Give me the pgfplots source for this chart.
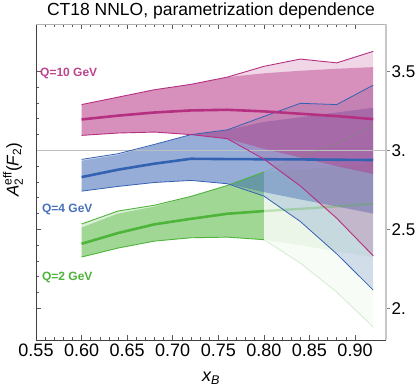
\documentclass[border=0pt]{standalone}
\usepackage{fontspec}
\setmainfont{Liberation Sans}
\usepackage{amsmath}
\usepackage{pgfplots}
\usepackage{pgfplotstable}
\pgfplotsset{compat=1.18}
\usepgfplotslibrary{fillbetween}

\definecolor{mag}{RGB}{181,48,129}
\definecolor{blu}{RGB}{52,98,178}
\definecolor{grn}{RGB}{78,180,58}

% Q=10 GeV: x, thin lower/upper, darker band lower/upper, central
\pgfplotstableread{
x    lo    hi    dlo   dhi   c
0.60 3.095 3.290 3.095 3.290 3.196
0.64 3.110 3.337 3.110 3.337 3.220
0.68 3.116 3.384 3.116 3.384 3.240
0.72 3.100 3.418 3.100 3.418 3.253
0.76 3.074 3.464 3.074 3.464 3.257
0.80 2.945 3.532 3.010 3.488 3.247
0.84 2.775 3.578 2.955 3.504 3.232
0.88 2.570 3.554 2.900 3.517 3.217
0.92 2.333 3.627 2.850 3.527 3.198
}\magtab

% Q=4 GeV
\pgfplotstableread{
x    lo    hi    dlo   dhi   c
0.60 2.742 2.943 2.742 2.935 2.831
0.64 2.772 2.979 2.772 2.972 2.878
0.68 2.797 3.038 2.797 3.035 2.916
0.72 2.810 3.100 2.810 3.100 2.947
0.76 2.789 3.130 2.789 3.130 2.945
0.80 2.711 3.215 2.736 3.180 2.944
0.84 2.550 3.298 2.690 3.210 2.943
0.88 2.345 3.290 2.645 3.240 2.941
0.92 2.116 3.413 2.600 3.270 2.939
}\blutab

% Q=2 GeV, fitted range
\pgfplotstableread{
x    lo    hi    dlo   dhi   c
0.60 2.325 2.534 2.325 2.512 2.409
0.64 2.382 2.616 2.382 2.600 2.477
0.68 2.426 2.653 2.426 2.645 2.532
0.72 2.447 2.709 2.447 2.709 2.567
0.76 2.451 2.778 2.451 2.778 2.599
0.80 2.435 2.863 2.435 2.863 2.616
}\grntab

% Q=2 GeV, extrapolated range
\pgfplotstableread{
x    lo    hi    dlo   dhi   c
0.80 2.435 2.863 2.435 2.863 2.616
0.84 2.287 2.960 2.400 2.880 2.630
0.88 2.103 3.042 2.360 2.900 2.646
0.92 1.882 3.154 2.325 2.920 2.662
}\grnext

\begin{document}
\begin{tikzpicture}
\begin{axis}[
    name=ax,
    at={(0,0)}, anchor=south west,
    scale only axis,
    width=350bp, height=316bp,
    xmin=0.55, xmax=0.934,
    ymin=1.8, ymax=3.8,
    clip=false,
    axis line style={draw=none},
    xtick={0.55,0.60,0.65,0.70,0.75,0.80,0.85,0.90},
    minor x tick num=4,
    xtick pos=both,
    ytick={2,2.5,3,3.5},
    minor y tick num=4,
    ytick pos=left,
    yticklabels={},
    tick align=inside,
    major tick length=5bp,
    minor tick length=3bp,
    tick style={black!65, line width=0.6bp},
    /pgf/number format/assume math mode=true,
    xticklabel style={font=\fontsize{18bp}{20bp}\selectfont,
        /pgf/number format/.cd, fixed, fixed zerofill, precision=2},
    xlabel={$\textit{x}_{\textit{B}}$},
    xlabel style={font=\fontsize{18bp}{20bp}\selectfont,
        at={(axis description cs:0.5,0)}, anchor=center, yshift=-38bp},
    ylabel={$\textit{A}_{\text{2}}^{\text{eff}}\text{(}\textit{F}_{\text{2}}\text{)}$},
    ylabel style={font=\fontsize{17bp}{19bp}\selectfont,
        at={(axis description cs:-0.066,0.538)}, anchor=center},
]

% reference line
\addplot[black!25, line width=0.8bp] coordinates {(0.55,3) (0.934,3)};

% ---- Q=2 bands
\addplot[name path=g1, draw=none] table[x=x,y=hi] {\grntab};
\addplot[name path=g2, draw=none] table[x=x,y=lo] {\grntab};
\addplot[fill=grn, fill opacity=0.2] fill between[of=g1 and g2];
\addplot[name path=g3, draw=none] table[x=x,y=dhi] {\grntab};
\addplot[name path=g4, draw=none] table[x=x,y=dlo] {\grntab};
\addplot[fill=grn, fill opacity=0.42] fill between[of=g3 and g4];
\addplot[name path=g5, draw=none] table[x=x,y=hi] {\grnext};
\addplot[name path=g6, draw=none] table[x=x,y=lo] {\grnext};
\addplot[fill=grn, fill opacity=0.04] fill between[of=g5 and g6];
\addplot[name path=g7, draw=none] table[x=x,y=dhi] {\grnext};
\addplot[name path=g8, draw=none] table[x=x,y=dlo] {\grnext};
\addplot[fill=grn, fill opacity=0.08] fill between[of=g7 and g8];

% ---- Q=4 bands
\addplot[name path=b1, draw=none] table[x=x,y=hi] {\blutab};
\addplot[name path=b2, draw=none] table[x=x,y=lo] {\blutab};
\addplot[fill=blu, fill opacity=0.2] fill between[of=b1 and b2];
\addplot[name path=b3, draw=none] table[x=x,y=dhi] {\blutab};
\addplot[name path=b4, draw=none] table[x=x,y=dlo] {\blutab};
\addplot[fill=blu, fill opacity=0.4] fill between[of=b3 and b4];

% ---- Q=10 bands
\addplot[name path=m1, draw=none] table[x=x,y=hi] {\magtab};
\addplot[name path=m2, draw=none] table[x=x,y=lo] {\magtab};
\addplot[fill=mag, fill opacity=0.2] fill between[of=m1 and m2];
\addplot[name path=m3, draw=none] table[x=x,y=dhi] {\magtab};
\addplot[name path=m4, draw=none] table[x=x,y=dlo] {\magtab};
\addplot[fill=mag, fill opacity=0.42] fill between[of=m3 and m4];

% ---- lines
\addplot[grn, line width=0.9bp] table[x=x,y=hi] {\grntab};
\addplot[grn, line width=0.9bp] table[x=x,y=lo] {\grntab};
\addplot[grn, line width=2.6bp] table[x=x,y=c] {\grntab};
\addplot[grn, draw opacity=0.22, line width=0.9bp] table[x=x,y=hi] {\grnext};
\addplot[grn, draw opacity=0.22, line width=0.9bp] table[x=x,y=lo] {\grnext};
\addplot[grn, draw opacity=0.3, line width=2.4bp] table[x=x,y=c] {\grnext};

\addplot[blu, line width=0.8bp] table[x=x,y=hi] {\blutab};
\addplot[blu, line width=0.8bp] table[x=x,y=lo] {\blutab};
\addplot[blu, line width=2.6bp] table[x=x,y=c] {\blutab};

\addplot[mag, line width=0.9bp] table[x=x,y=hi] {\magtab};
\addplot[mag, line width=0.9bp] table[x=x,y=lo] {\magtab};
\addplot[mag, line width=2.6bp] table[x=x,y=c] {\magtab};

% frame
\draw[black!75, line width=0.8bp] (rel axis cs:0,1) -- (rel axis cs:0,0) -- (rel axis cs:1,0);
\draw[black!30, line width=0.6bp] (rel axis cs:0,1) -- (rel axis cs:1,1);

% labels
\node[anchor=west, text=mag!90, font=\fontsize{12bp}{14bp}\selectfont\bfseries, inner sep=0pt]
    at (axis cs:0.5544,3.487) {Q=10 GeV};
\node[anchor=west, text=blu!90, font=\fontsize{12bp}{14bp}\selectfont\bfseries, inner sep=0pt]
    at (axis cs:0.5565,2.625) {Q=4 GeV};
\node[anchor=west, text=grn, font=\fontsize{12bp}{14bp}\selectfont\bfseries, inner sep=0pt]
    at (axis cs:0.5565,2.198) {Q=2 GeV};
\end{axis}

% right-hand frame with labelled ticks
\begin{axis}[
    at={(0,0)}, anchor=south west,
    scale only axis,
    width=350bp, height=316bp,
    xmin=0.55, xmax=0.934,
    ymin=1.8, ymax=3.8,
    axis x line=none,
    axis y line*=right,
    axis line style={black!22, line width=1.6bp},
    ytick={2,2.5,3,3.5},
    yticklabels={2.,2.5,3.,3.5},
    tick align=outside,
    major tick length=4bp,
    y tick style={black!50, line width=0.6bp},
    /pgf/number format/assume math mode=true,
    yticklabel style={font=\fontsize{17bp}{19bp}\selectfont, anchor=west,
        inner sep=0pt, xshift=1.5bp},
]
\end{axis}

% title
\node[anchor=base, inner sep=0pt, yshift=8bp, font=\fontsize{17.5bp}{20bp}\selectfont]
    at (ax.north) {CT18 NNLO, parametrization dependence};

\pgfresetboundingbox
\path[use as bounding box] (-36bp,-49bp) rectangle (379bp,340bp);
\end{tikzpicture}
\end{document}
